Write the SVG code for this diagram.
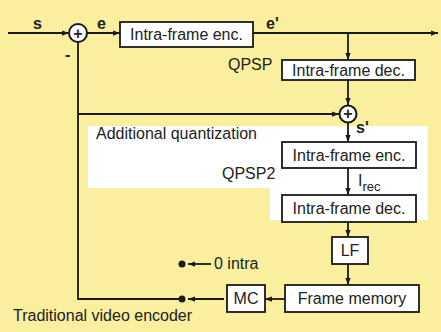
<svg xmlns="http://www.w3.org/2000/svg" width="441" height="332" viewBox="0 0 441 332">
<defs>
<style>
.box{fill:#fff;stroke:#1a1a1a;stroke-width:1.8}
.t{font-family:"Liberation Sans",Arial,sans-serif;font-size:16px;fill:#222}
.c{text-anchor:middle}
.b{font-weight:bold}
.ln{fill:none;stroke:#1a1a1a;stroke-width:1.8}
.add{fill:#fff;stroke:#1a1a1a;stroke-width:2}
</style>
<marker id="ah" viewBox="0 0 8 6" refX="8" refY="3" markerWidth="7" markerHeight="6" markerUnits="userSpaceOnUse" orient="auto">
<path d="M0,0 L8,3 L0,6 Z" fill="#1a1a1a"/>
</marker>
</defs>
<rect x="0" y="0" width="441" height="332" fill="#f9ef9f"/>
<path d="M88,126 H428 V220 H270 V188 H88 Z" fill="#ffffff"/>
<text class="t" x="96" y="139">Additional quantization</text>
<text class="t" x="228" y="70">QPSP</text>
<text class="t" x="222" y="179">QPSP2</text>
<text class="t" x="13" y="321">Traditional video encoder</text>
<text class="t b" x="33" y="29" font-size="14">s</text>
<text class="t b" x="97" y="29" font-size="14">e</text>
<text class="t b" x="266" y="29" font-size="14">e'</text>
<text class="t b" x="356" y="133" font-size="14">s'</text>
<text class="t b" x="65" y="60" font-size="14">-</text>
<text class="t" x="358" y="186">I<tspan font-size="13" dy="5">rec</tspan></text>
<text class="t" x="214" y="269">0 intra</text>

<g id="connectors">
<path class="ln" d="M8,33 H69" marker-end="url(#ah)"/>
<path class="ln" d="M87,33 H120" marker-end="url(#ah)"/>
<path class="ln" d="M253,33 H438" marker-end="url(#ah)"/>
<path class="ln" d="M348,33 V60" marker-end="url(#ah)"/>
<path class="ln" d="M348,80 V105" marker-end="url(#ah)"/>
<path class="ln" d="M182,299 H78 V42"/>
<path class="ln" d="M78,114 H339" marker-end="url(#ah)"/>
<path class="ln" d="M348,123 V142" marker-end="url(#ah)"/>
<path class="ln" d="M348,168 V195" marker-end="url(#ah)"/>
<path class="ln" d="M348,222 V237" marker-end="url(#ah)"/>
<path class="ln" d="M348,264 V285" marker-end="url(#ah)"/>
<path class="ln" d="M285,299 H265" marker-end="url(#ah)"/>
<path class="ln" d="M224,299 H188" marker-end="url(#ah)"/>
<path class="ln" d="M211,264 H188" marker-end="url(#ah)"/>
</g>

<g id="adder1">
<circle class="add" cx="78" cy="33" r="9"/>
<text class="t b c" x="78" y="38.5" font-size="14">+</text>
</g>
<g id="adder2">
<circle class="add" cx="348" cy="114" r="8.5"/>
<text class="t b c" x="348" y="119" font-size="13">+</text>
</g>
<g id="enc1">
<rect class="box" x="120" y="22" width="133" height="25"/>
<text class="t c" x="186.5" y="40">Intra-frame enc.</text>
</g>
<g id="dec1">
<rect class="box" x="282" y="60" width="133" height="20"/>
<text class="t c" x="348.5" y="75.5">Intra-frame dec.</text>
</g>
<g id="enc2">
<rect class="box" x="282" y="142" width="134" height="26"/>
<text class="t c" x="349" y="160.5">Intra-frame enc.</text>
</g>
<g id="dec2">
<rect class="box" x="282" y="195" width="134" height="27"/>
<text class="t c" x="349" y="214">Intra-frame dec.</text>
</g>
<g id="lf">
<rect class="box" x="332" y="237" width="36" height="27"/>
<text class="t c" x="350" y="256">LF</text>
</g>
<g id="framememory">
<rect class="box" x="285" y="285" width="134" height="27"/>
<text class="t c" x="352" y="304">Frame memory</text>
</g>
<g id="mc">
<rect class="box" x="227" y="285" width="38" height="27"/>
<text class="t c" x="246" y="304">MC</text>
</g>
<g id="switch">
<circle cx="182" cy="299" r="3.5" fill="#1a1a1a"/>
<circle cx="182" cy="264" r="3.5" fill="#1a1a1a"/>
</g>
</svg>
